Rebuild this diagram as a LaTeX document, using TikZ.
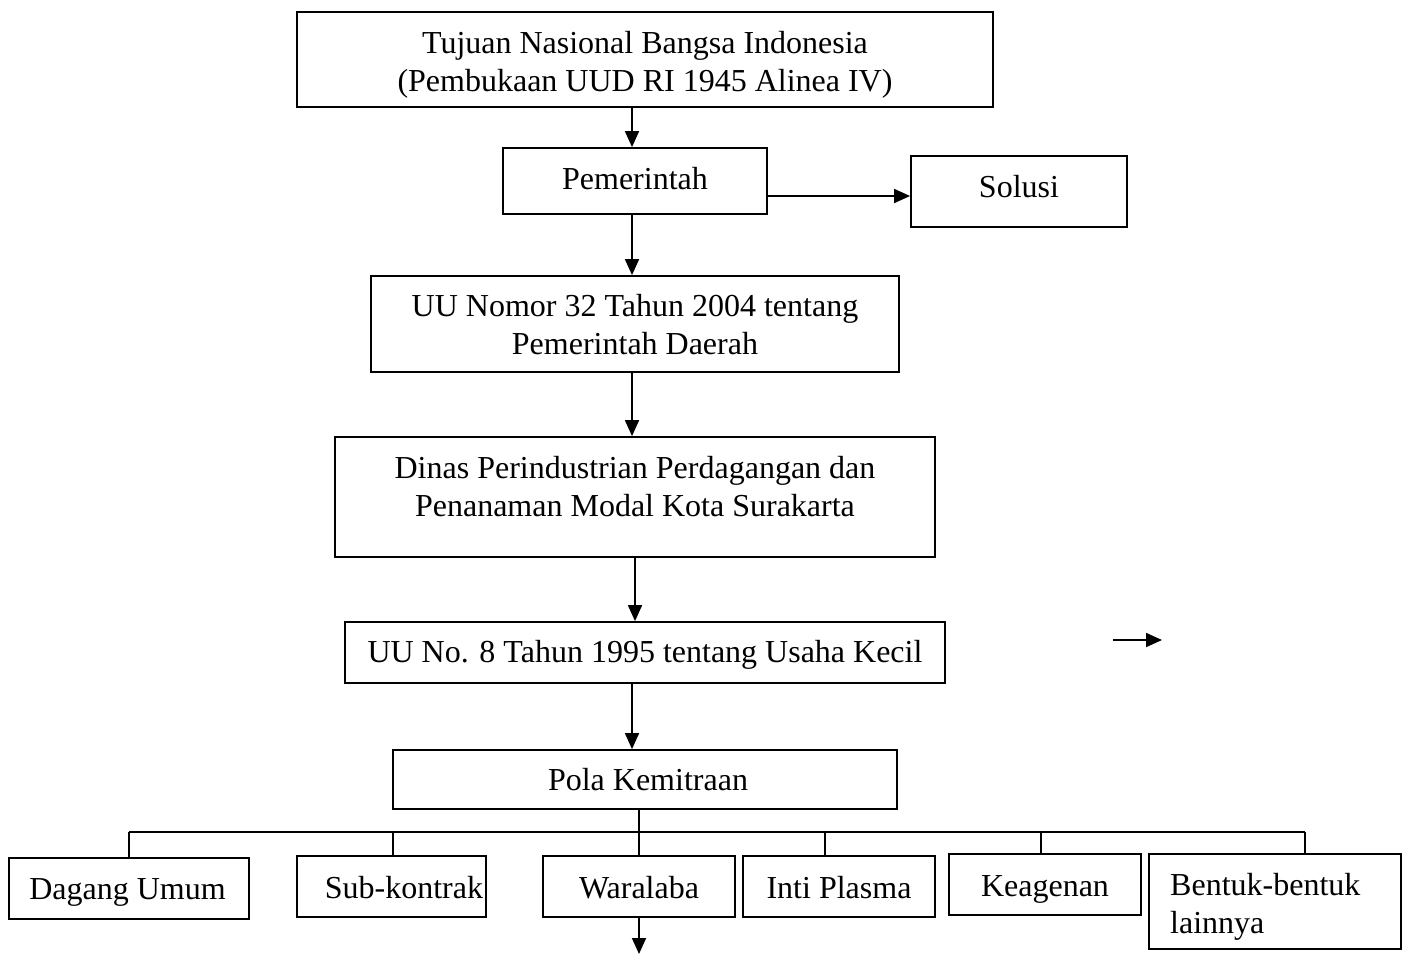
\documentclass[tikz,border=0pt]{standalone}
\usepackage{fontspec}
\setmainfont{Liberation Serif}
\usetikzlibrary{arrows.meta}
\begin{document}
\begin{tikzpicture}[x=1pt,y=-1pt,
  box/.style={draw,line width=1.8pt,inner sep=0pt},
  txt/.style={inner sep=0pt,align=center,font=\fontsize{32}{38}\selectfont},
  conn/.style={line width=1.8pt},
  arr/.style={line width=1.8pt,-{Triangle[length=16pt,width=14pt]}}]
\useasboundingbox (0,0) rectangle (1405,954);
% boxes
\node[box,minimum width=696pt,minimum height=95pt] (top) at (645,59.5) {};
\node[txt,yshift=-5pt] (topt) at (top.center)
  {Tujuan Nasional Bangsa Indonesia\\(Pembukaan UUD RI 1945 Alinea IV)};
\node[box,minimum width=264pt,minimum height=66pt] (pem) at (635,181) {};
\node[txt] (pemt) at (635,179) {Pemerintah};
\node[box,minimum width=216pt,minimum height=71pt] (sol) at (1019,191.5) {};
\node[txt] (solt) at (1019,187) {Solusi};
\node[box,minimum width=528pt,minimum height=96pt] (uu32) at (635,324) {};
\node[txt] (uu32t) at (635,325)
  {UU Nomor 32 Tahun 2004 tentang\\Pemerintah Daerah};
\node[box,minimum width=600pt,minimum height=120pt] (dinas) at (635,497) {};
\node[txt] (dinast) at (635,487)
  {Dinas Perindustrian Perdagangan dan\\Penanaman Modal Kota Surakarta};
\node[box,minimum width=600pt,minimum height=61pt] (uu8) at (645,652.5) {};
\node[txt] (uu8t) at (645,654.5) {UU No. 8 Tahun 1995 tentang Usaha Kecil};
\node[box,minimum width=504pt,minimum height=59pt] (pola) at (645,779.5) {};
\node[txt] (polat) at (648,779.5) {Pola Kemitraan};
\node[box,minimum width=240pt,minimum height=61pt] (dag) at (129,888.5) {};
\node[txt] (dagt) at (127.5,892.5) {Dagang Umum};
\node[box,minimum width=189pt,minimum height=61pt] (sub) at (391.5,886.5) {};
\node[txt] (subt) at (404,887.5) {Sub-kontrak};
\node[box,minimum width=192pt,minimum height=61pt] (war) at (639,886.5) {};
\node[txt] (wart) at (639,887.5) {Waralaba};
\node[box,minimum width=192pt,minimum height=61pt] (inti) at (839,886.5) {};
\node[txt] (intit) at (839,887.5) {Inti Plasma};
\node[box,minimum width=192pt,minimum height=61pt] (kea) at (1045,884.5) {};
\node[txt] (keat) at (1045,889.5) {Keagenan};
\node[box,minimum width=252pt,minimum height=95pt] (ben) at (1275,901.5) {};
\node[txt,align=left,anchor=west] (bent) at (1170,907)
  {Bentuk-bentuk\\lainnya};
% coordinates
\coordinate (c1) at (632,0);
\coordinate (c2) at (635,0);
\coordinate (r) at (0,196);
\coordinate (sa) at (1113,640);
\coordinate (sb) at (1162,640);
\coordinate (bl) at (129,832);
\coordinate (br) at (1305,832);
\coordinate (b1) at (129,832);
\coordinate (b2) at (393,832);
\coordinate (b3) at (639,832);
\coordinate (b4) at (825,832);
\coordinate (b5) at (1041,832);
\coordinate (b6) at (1305,832);
\coordinate (wend) at (639,954);
% arrows
\draw[arr] (c1 |- top.south) -- (c1 |- pem.north);
\draw[arr] (c1 |- pem.south) -- (c1 |- uu32.north);
\draw[arr] (c1 |- uu32.south) -- (c1 |- dinas.north);
\draw[arr] (c2 |- dinas.south) -- (c2 |- uu8.north);
\draw[arr] (c1 |- uu8.south) -- (c1 |- pola.north);
\draw[arr] (pem.east |- r) -- (sol.west |- r);
\draw[arr] (sa) -- (sb);
% bus
\draw[conn] (b3 |- pola.south) -- (b3);
\draw[conn] (bl) -- (br);
\draw[conn] (b1) -- (b1 |- dag.north);
\draw[conn] (b2) -- (b2 |- sub.north);
\draw[conn] (b3) -- (b3 |- war.north);
\draw[conn] (b4) -- (b4 |- inti.north);
\draw[conn] (b5) -- (b5 |- kea.north);
\draw[conn] (b6) -- (b6 |- ben.north);
\draw[arr] (war.south -| wend) -- (wend);
\end{tikzpicture}
\end{document}
